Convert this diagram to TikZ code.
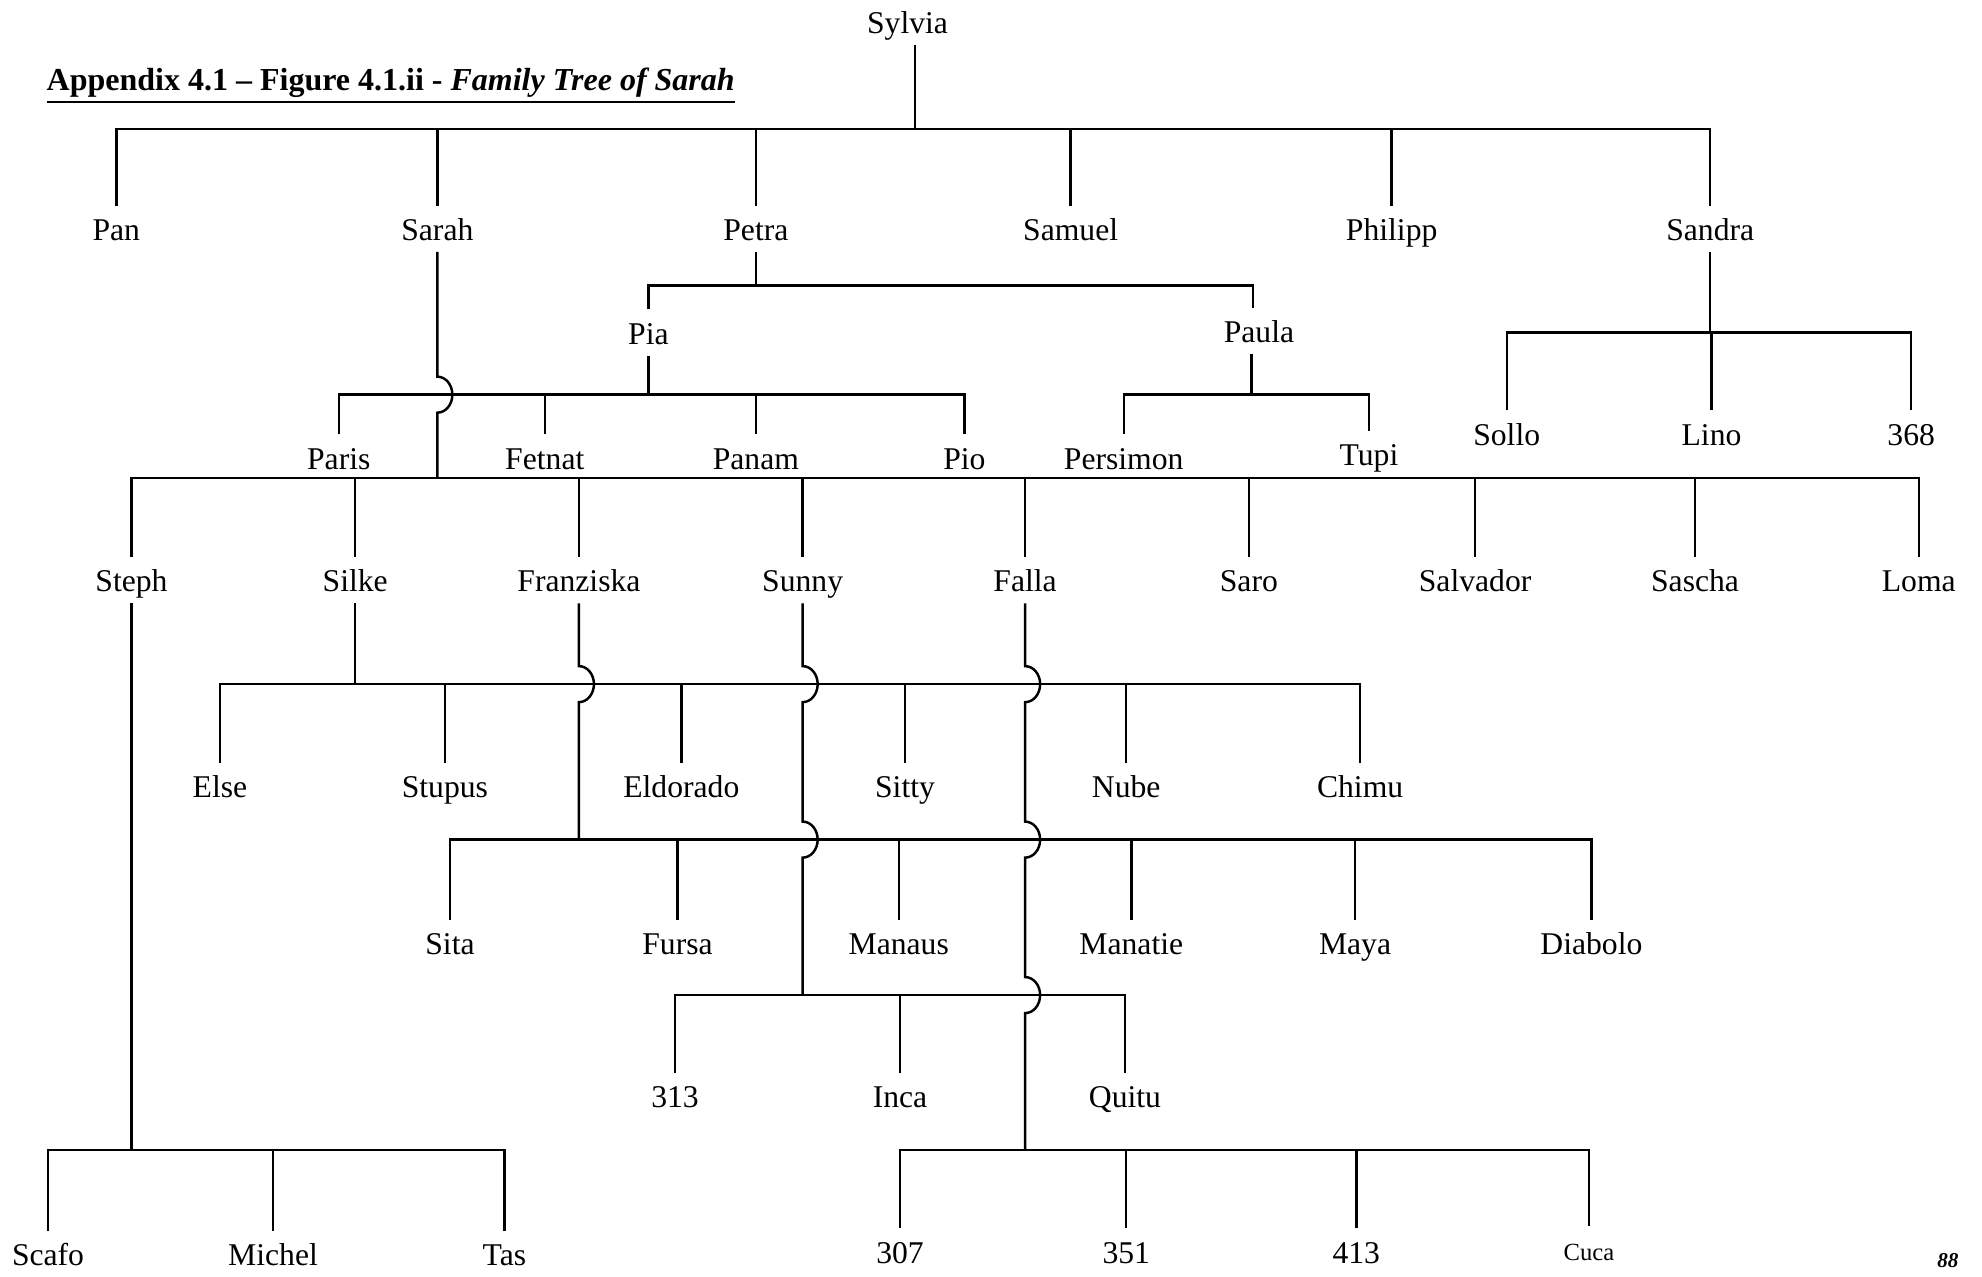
\documentclass[tikz,border=0pt]{standalone}
\usepackage{fontspec}
\setmainfont{Liberation Serif}
\begin{document}
\begin{tikzpicture}[x=0.01264cm, y=-0.01264cm, line width=0.7pt]
        \tikzset{
          person/.style={font=\fontsize{9}{10}\selectfont, inner sep=2pt, text height=7.6pt, text depth=0.9pt},
        }
        \useasboundingbox (0,0) rectangle (1568,1010);
        \node [anchor=west, inner sep=0pt] (title) at (36,68) {\fontsize{9.1}{10}\selectfont\underline{\textbf{Appendix 4.1 -- Figure 4.1.ii - \textit{Family Tree of Sarah}}}};
        \node (page) at (1541,997) {\fontsize{6}{7}\selectfont\textbf{\textit{88}}};
        %
        \node [person] (sylvia) at (718,17) {Sylvia};
        \coordinate (b0) at (724,102);
        \draw (b0 |- sylvia.south) -- (b0);
        \node [person] (pan) at (92,181) {Pan};
        \node [person] (sarah) at (346,181) {Sarah};
        \node [person] (petra) at (598,181) {Petra};
        \node [person] (samuel) at (847,181) {Samuel};
        \node [person] (philipp) at (1101,181) {Philipp};
        \node [person] (sandra) at (1353,181) {Sandra};
        \foreach \n in {pan,sarah,petra,samuel,philipp,sandra}
          \draw (\n.north) |- (b0);
        %
        \coordinate (bpetra) at (598,226);
        \draw (petra.south) -- (bpetra);
        \node [person] (pia) at (513,263) {Pia};
        \node [person] (paula) at (996,262) {Paula};
        \draw (pia.north) |- (bpetra);
        \draw ([xshift=-1.7pt]paula.north) |- (bpetra);
        %
        \coordinate (bpia) at (513,312);
        \draw (pia.south) -- (bpia);
        \node [person] (paris) at (268,362) {Paris};
        \node [person] (fetnat) at (431,362) {Fetnat};
        \node [person] (panam) at (598,362) {Panam};
        \node [person] (pio) at (763,362) {Pio};
        \foreach \n in {paris,fetnat,panam,pio}
          \draw (\n.north) |- (bpia);
        %
        \coordinate (bpaula) at (990,312);
        \draw (paula.south -| bpaula) -- (bpaula);
        \node [person] (persimon) at (889,362) {Persimon};
        \node [person] (tupi) at (1083,359) {Tupi};
        \draw (persimon.north) |- (bpaula);
        \draw (tupi.north) |- (bpaula);
        %
        \coordinate (bsandra) at (1353,263);
        \draw (sandra.south) -- (bsandra);
        \node [person] (sollo) at (1192,343) {Sollo};
        \node [person] (lino) at (1354,343) {Lino};
        \node [person] (n368) at (1512,343) {368};
        \foreach \n in {sollo,lino,n368}
          \draw (\n.north) |- (bsandra);
        %
        \coordinate (bsarah) at (346,378);
        \draw (sarah.south) -- (346,298) arc[start angle=90, end angle=-90, x radius=0.15cm, y radius=0.18cm] -- (bsarah);
        \node [person] (steph) at (104,459) {Steph};
        \node [person] (silke) at (281,459) {Silke};
        \node [person] (franziska) at (458,459) {Franziska};
        \node [person] (sunny) at (635,459) {Sunny};
        \node [person] (falla) at (811,459) {Falla};
        \node [person] (saro) at (988,459) {Saro};
        \node [person] (salvador) at (1167,459) {Salvador};
        \node [person] (sascha) at (1341,459) {Sascha};
        \node [person] (loma) at (1518,459) {Loma};
        \foreach \n in {steph,silke,franziska,sunny,falla,saro,salvador,sascha,loma}
          \draw (\n.north) |- (bsarah);
        %
        \coordinate (bsilke) at (281,541);
        \draw (silke.south) -- (bsilke);
        \node [person] (else) at (174,622) {Else};
        \node [person] (stupus) at (352,622) {Stupus};
        \node [person] (eldorado) at (539,622) {Eldorado};
        \node [person] (sitty) at (716,622) {Sitty};
        \node [person] (nube) at (891,622) {Nube};
        \node [person] (chimu) at (1076,622) {Chimu};
        \foreach \n in {else,stupus,eldorado,sitty,nube,chimu}
          \draw (\n.north) |- (bsilke);
        %
        \coordinate (bfranz) at (458,664);
        \draw (franziska.south) -- (458,527) arc[start angle=90, end angle=-90, x radius=0.15cm, y radius=0.18cm] -- (bfranz);
        \node [person] (sita) at (356,746) {Sita};
        \node [person] (fursa) at (536,746) {Fursa};
        \node [person] (manaus) at (711,746) {Manaus};
        \node [person] (manatie) at (895,746) {Manatie};
        \node [person] (maya) at (1072,746) {Maya};
        \node [person] (diabolo) at (1259,746) {Diabolo};
        \foreach \n in {sita,fursa,manaus,manatie,maya,diabolo}
          \draw (\n.north) |- (bfranz);
        %
        \coordinate (bsunny) at (635,787);
        \draw (sunny.south) -- (635,527) arc[start angle=90, end angle=-90, x radius=0.15cm, y radius=0.18cm]
          -- (635,650) arc[start angle=90, end angle=-90, x radius=0.15cm, y radius=0.18cm] -- (bsunny);
        \node [person] (n313) at (534,867) {313};
        \node [person] (inca) at (712,867) {Inca};
        \node [person] (quitu) at (890,867) {Quitu};
        \foreach \n in {n313,inca,quitu}
          \draw (\n.north) |- (bsunny);
        %
        \coordinate (bfalla) at (811,910);
        \draw (falla.south) -- (811,527) arc[start angle=90, end angle=-90, x radius=0.15cm, y radius=0.18cm]
          -- (811,650) arc[start angle=90, end angle=-90, x radius=0.15cm, y radius=0.18cm]
          -- (811,773) arc[start angle=90, end angle=-90, x radius=0.15cm, y radius=0.18cm] -- (bfalla);
        \node [person] (n307) at (712,990) {307};
        \node [person] (n351) at (891,990) {351};
        \node [person] (n413) at (1073,990) {413};
        \node [person, font=\fontsize{7}{8}\selectfont] (cuca) at (1257,988) {Cuca};
        \foreach \n in {n307,n351,n413,cuca}
          \draw (\n.north) |- (bfalla);
        %
        \coordinate (bsteph) at (104,910);
        \draw (steph.south) -- (bsteph);
        \node [person] (scafo) at (38,992) {Scafo};
        \node [person] (michel) at (216,992) {Michel};
        \node [person] (tas) at (399,992) {Tas};
        \foreach \n in {scafo,michel,tas}
          \draw (\n.north) |- (bsteph);
    \end{tikzpicture}
\end{document}
